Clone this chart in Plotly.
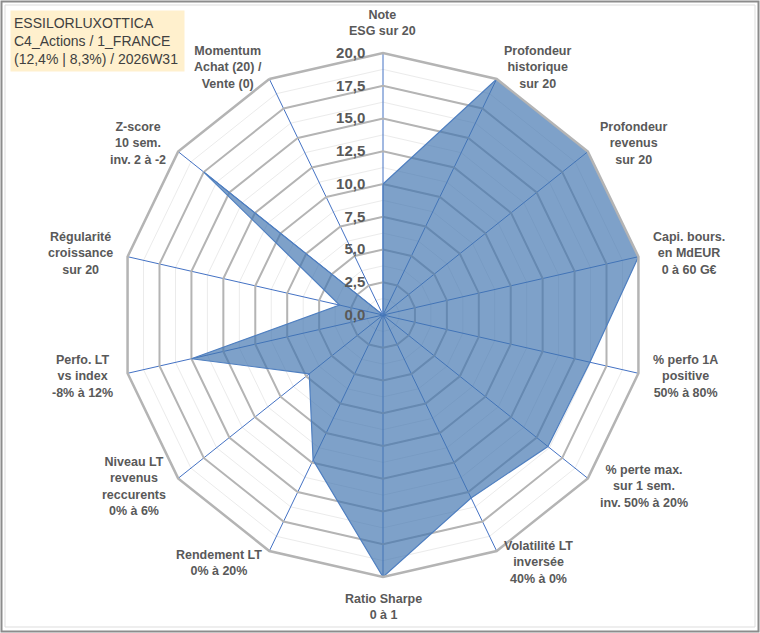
import math
import plotly.graph_objects as go

# axes du radar (sens horaire depuis le haut)
criteres = [
    "Note<br>ESG sur 20",
    "Profondeur<br>historique<br>sur 20",
    "Profondeur<br>revenus<br>sur 20",
    "Capi. bours.<br>en MdEUR<br>0 à 60 G€",
    "% perfo 1A<br>positive<br>50% à 80%",
    "% perte max.<br>sur 1 sem.<br>inv. 50% à 20%",
    "Volatilité LT<br>inversée<br>40% à 0%",
    "Ratio Sharpe<br>0 à 1",
    "Rendement LT<br>0% à 20%",
    "Niveau LT<br>revenus<br>reccurents<br>0% à 6%",
    "Perfo. LT<br>vs index<br>-8% à 12%",
    "Régularité<br>croissance<br>sur 20",
    "Z-score<br>10 sem.<br>inv. 2 à -2",
    "Momentum<br>Achat (20) /<br>Vente (0)",
]
notes = [10.0, 20.0, 20.0, 20.0, 16.2, 16.1, 15.5, 20.0, 12.3, 7.2, 15.0, 3.4, 17.5, 0.0]
graduations = [0, 2.5, 5, 7.5, 10, 12.5, 15, 17.5, 20]

titre = "ESSILORLUXOTTICA<br>C4_Actions / 1_FRANCE<br>(12,4% | 8,3%) / 2026W31"

GRIS = "#595959"
BLEU = "#4472C4"
GRILLE = "#B4B4B4"
W, H = 760, 633

# boucle fermee
r_ferme = notes + notes[:1]
theta_ferme = criteres + criteres[:1]

fig = go.Figure()

# trace invisible pour la grille fine (sous-graduations)
fig.add_trace(go.Scatterpolar(
    r=r_ferme, theta=theta_ferme, subplot="polar",
    mode="lines", line=dict(color="rgba(0,0,0,0)", width=0),
    hoverinfo="skip", showlegend=False,
))

fig.add_trace(go.Scatterpolar(
    r=r_ferme, theta=theta_ferme, subplot="polar2",
    mode="lines", fill="toself",
    fillcolor="rgba(65,116,175,0.68)",
    line=dict(color="#4F7FC0", width=1.2),
    showlegend=False,
))

# centre (383, 315), rayon ~262 px
cx, cy, rayon = 383, 315, 262
domaine = dict(x=[(cx - rayon) / W, (cx + rayon) / W],
               y=[(H - cy - rayon) / H, (H - cy + rayon) / H])

police = dict(family="Liberation Sans", color=GRIS, weight="bold")

fig.update_layout(
    width=W, height=H,
    margin=dict(l=0, r=0, t=0, b=0),
    paper_bgcolor="white",
    separators=",.",
    showlegend=False,
    polar=dict(
        domain=domaine,
        bgcolor="white",
        gridshape="linear",
        radialaxis=dict(
            range=[0, 20], dtick=1.25, showticklabels=False, ticks="",
            showline=False, gridcolor="#EBEBEB", gridwidth=1, angle=90,
        ),
        angularaxis=dict(
            categoryorder="array", categoryarray=criteres,
            direction="clockwise", rotation=90,
            showticklabels=False, ticks="", showgrid=False, showline=False,
        ),
    ),
    polar2=dict(
        domain=domaine,
        bgcolor="rgba(0,0,0,0)",
        gridshape="linear",
        radialaxis=dict(
            range=[0, 20], tickvals=graduations, tickformat=".1f",
            ticks="outside", ticklen=12, tickcolor="rgba(0,0,0,0)",
            showline=False, angle=90, tickangle=90,
            side="counterclockwise",
            gridcolor=GRILLE, gridwidth=2,
            tickfont=dict(size=15, **police),
        ),
        angularaxis=dict(
            categoryorder="array", categoryarray=criteres,
            direction="clockwise", rotation=90, ticks="",
            showticklabels=False,
            showline=True, linecolor=GRILLE, linewidth=2.5,
            gridcolor=BLEU, gridwidth=1,
        ),
    ),
)

# libelles des axes, centres, places juste au-dela de chaque sommet
ecart = 13
for i, lib in enumerate(criteres):
    a = math.radians(i * 360 / len(criteres))
    s, c = math.sin(a), math.cos(a)
    px_ = cx + (rayon + ecart) * s
    py_ = cy - (rayon + ecart) * c
    xa = "left" if s > 0.2 else ("right" if s < -0.2 else "center")
    ya = "bottom" if c > 0.95 else ("top" if c < -0.95 else "middle")
    fig.add_annotation(
        text=lib, xref="paper", yref="paper", x=px_ / W, y=1 - py_ / H,
        xanchor=xa, yanchor=ya, align="center", showarrow=False,
        font=dict(size=12.5, **police),
    )

# titre encadre en haut a gauche
fig.add_annotation(
    text=titre, xref="paper", yref="paper", x=10 / W, y=1 - 10 / H,
    xanchor="left", yanchor="top", align="left", showarrow=False,
    width=167, height=54, bgcolor="#FFF0CD", borderpad=3,
    font=dict(family="Liberation Sans", size=14, color="#404040"),
)

# cadre du graphique
fig.add_shape(type="rect", xref="paper", yref="paper",
              x0=1.5 / W, y0=1.5 / H, x1=1 - 1.5 / W, y1=1 - 1.5 / H,
              line=dict(color="#8C8C8C", width=2))
fig.add_shape(type="rect", xref="paper", yref="paper",
              x0=5 / W, y0=6 / H, x1=1 - 5 / W, y1=1 - 5 / H,
              line=dict(color="#DDDDDD", width=1))

fig.write_html("out.html", config={"displayModeBar": False},
               post_script="document.body.style.margin='0';")
